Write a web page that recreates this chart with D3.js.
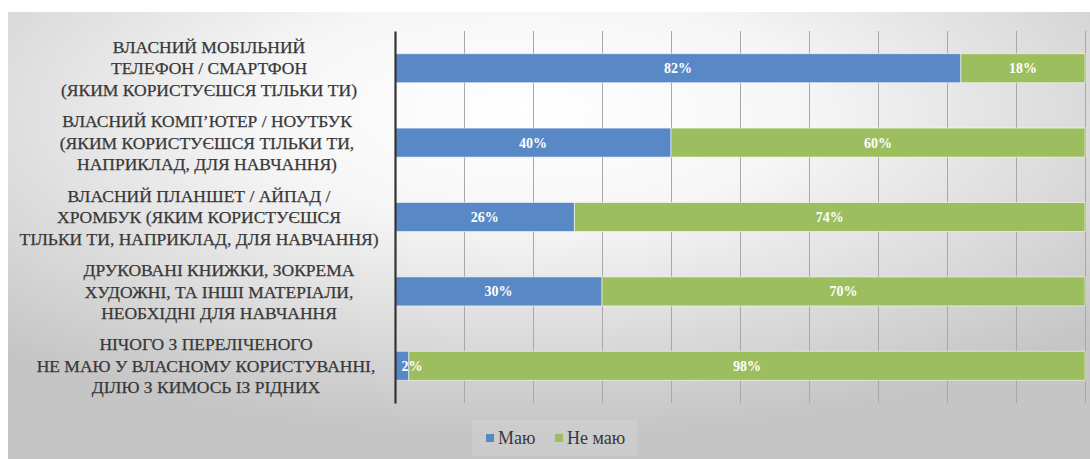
<!DOCTYPE html>
<html>
<head>
<meta charset="utf-8">
<script src="https://cdn.jsdelivr.net/npm/d3@7"></script>
<style>
  html, body { margin: 0; padding: 0; background: #ffffff; }
  svg { display: block; }
  .serif { font-family: "Liberation Serif", "Tinos", "Times New Roman", "DejaVu Serif", serif; }
</style>
</head>
<body>
<svg id="chart" width="1090" height="459"></svg>
<script>
// ---- data ----
const categories = [
  ["ВЛАСНИЙ МОБІЛЬНИЙ", "ТЕЛЕФОН / СМАРТФОН", "(ЯКИМ КОРИСТУЄШСЯ ТІЛЬКИ ТИ)"],
  ["ВЛАСНИЙ КОМП’ЮТЕР / НОУТБУК", "(ЯКИМ КОРИСТУЄШСЯ ТІЛЬКИ ТИ,", "НАПРИКЛАД, ДЛЯ НАВЧАННЯ)"],
  ["ВЛАСНИЙ ПЛАНШЕТ / АЙПАД /", "ХРОМБУК (ЯКИМ КОРИСТУЄШСЯ", "ТІЛЬКИ ТИ, НАПРИКЛАД, ДЛЯ НАВЧАННЯ)"],
  ["ДРУКОВАНІ КНИЖКИ, ЗОКРЕМА", "ХУДОЖНІ, ТА ІНШІ МАТЕРІАЛИ,", "НЕОБХІДНІ ДЛЯ НАВЧАННЯ"],
  ["НІЧОГО З ПЕРЕЛІЧЕНОГО", "НЕ МАЮ У ВЛАСНОМУ КОРИСТУВАННІ,", "ДІЛЮ З КИМОСЬ ІЗ РІДНИХ"]
];
const seriesNames = ["Маю", "Не маю"];
const have    = [82, 40, 26, 30, 2];
const notHave = [18, 60, 74, 70, 98];
const gridTicks = [0, 10, 20, 30, 40, 50, 60, 70, 80, 90, 100];

// ---- layout / style ----
const W = 1090, H = 459;
const colors = ["#5889c6", "#9dbe5e"];
const plot = { left: 395, right: 1085, top: 31, bottom: 403 };
const labelCenterX = 207;
const labelShift = [2, 0, -8, 12, -1];

const svg = d3.select("#chart");
const defs = svg.append("defs");
const grad = defs.append("radialGradient")
  .attr("id", "bg").attr("cx", 0.48).attr("cy", 0.22).attr("r", 0.72);
grad.append("stop").attr("offset", 0).attr("stop-color", "#ffffff");
grad.append("stop").attr("offset", 0.35).attr("stop-color", "#f6f6f6");
grad.append("stop").attr("offset", 1).attr("stop-color", "#c5c5c5");

svg.append("rect").attr("x", 8).attr("y", 12).attr("width", W - 8).attr("height", H - 12)
  .attr("fill", "url(#bg)");

const x = d3.scaleLinear().domain([0, 100]).range([plot.left, plot.right]);
const y = d3.scaleBand().domain(d3.range(categories.length))
  .range([plot.top, plot.bottom]).paddingInner(0.61).paddingOuter(0.305);

// gridlines via axis
const gridAxis = d3.axisBottom(x).tickValues(gridTicks.slice(1))
  .tickSize(-(plot.bottom - plot.top)).tickFormat("");
const gg = svg.append("g").attr("transform", `translate(0,${plot.bottom})`).call(gridAxis);
gg.select(".domain").remove();
gg.selectAll(".tick line").attr("stroke", "#a8a8a8").attr("stroke-width", 1);

// stacked data
const rows = categories.map((c, i) => ({ i, v: [have[i], notHave[i]] }));
const stackGen = d3.stack().keys([0, 1]).value((d, k) => d.v[k]);
const stacked = stackGen(rows);

svg.append("g").selectAll("g").data(stacked).join("g")
  .attr("fill", (d, k) => colors[k])
  .selectAll("rect").data(d => d).join("rect")
  .attr("x", d => x(d[0]))
  .attr("y", d => y(d.data.i))
  .attr("width", d => x(d[1]) - x(d[0]))
  .attr("height", y.bandwidth())
  .attr("stroke", "rgba(255,255,255,0.55)")
  .attr("stroke-width", 1);

// value labels (drawn above all bars)
svg.append("g").selectAll("g").data(stacked).join("g")
  .selectAll("text").data(d => d).join("text")
  .attr("class", "serif")
  .attr("x", d => {
    const w = x(d[1]) - x(d[0]);
    return w < 24 ? x(d[0]) + 17 : (x(d[0]) + x(d[1])) / 2;
  })
  .attr("y", d => y(d.data.i) + y.bandwidth() / 2)
  .attr("dy", "0.35em")
  .attr("text-anchor", "middle")
  .attr("fill", "#ffffff")
  .attr("font-weight", "bold")
  .attr("font-size", 14)
  .text(d => (d[1] - d[0]) + "%");

// category axis (left)
const yAxis = d3.axisLeft(y).tickSize(0).tickFormat("");
const ya = svg.append("g").attr("transform", `translate(${plot.left},0)`).call(yAxis);
ya.select(".domain").attr("stroke", "#333333").attr("stroke-width", 2.2);

const catG = svg.append("g");
categories.forEach((lines, i) => {
  const cy = y(i) + y.bandwidth() / 2;
  const lh = 21.5;
  const t = catG.append("text")
    .attr("class", "serif")
    .attr("text-anchor", "middle")
    .attr("font-size", 17.5)
    .attr("fill", "#383838")
    .attr("stroke", "#383838")
    .attr("stroke-width", 0.25);
  lines.forEach((ln, j) => {
    t.append("tspan").attr("x", labelCenterX + labelShift[i])
      .attr("y", cy + (j - (lines.length - 1) / 2) * lh)
      .attr("dy", "0.35em").text(ln);
  });
});

// legend
const lg = svg.append("g").attr("transform", "translate(472,420)");
lg.append("rect").attr("width", 166).attr("height", 36).attr("fill", "rgba(255,255,255,0.12)");
const legendItems = [{ x: 14, tx: 26 }, { x: 83, tx: 95 }];
seriesNames.forEach((n, k) => {
  lg.append("rect").attr("x", legendItems[k].x).attr("y", 14).attr("width", 8).attr("height", 8)
    .attr("fill", colors[k]);
  lg.append("text").attr("class", "serif").attr("x", legendItems[k].tx).attr("y", 18).attr("dy", "0.35em")
    .attr("font-size", 18).attr("fill", "#383838").text(n);
});
</script>
</body>
</html>
